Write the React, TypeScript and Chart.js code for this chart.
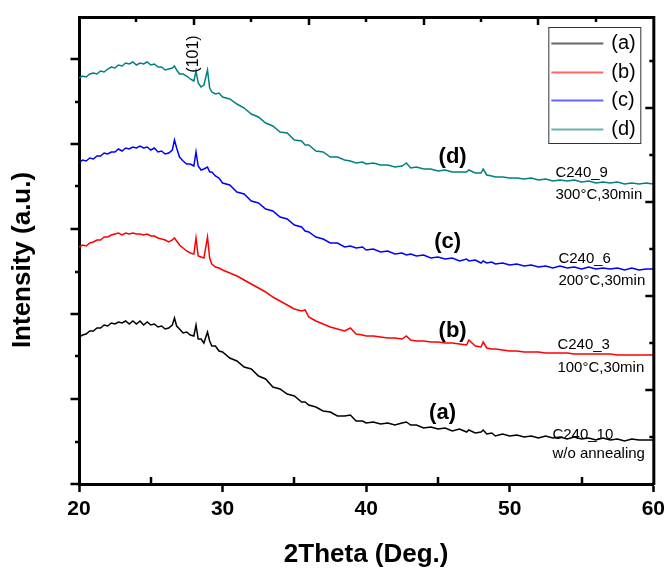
import React, { useEffect, useRef } from "react";
import { Chart, registerables } from "chart.js";

Chart.register(...registerables);

// 2-theta positions (degrees), shared by all four patterns
const THETA = [20, 20.25, 20.5, 20.75, 21, 21.25, 21.5, 21.75, 22, 22.25, 22.5, 22.75, 23, 23.25, 23.5, 23.75, 24, 24.25, 24.5, 24.75, 25, 25.25, 25.5, 25.75, 26, 26.25, 26.5, 26.65, 26.8, 27, 27.25, 27.5, 27.75, 28, 28.15, 28.3, 28.5, 28.7, 28.95, 29.1, 29.25, 29.5, 29.75, 30, 30.5, 31, 31.5, 32, 32.5, 33, 33.5, 34, 34.5, 35, 35.5, 35.75, 36, 36.5, 37, 37.5, 38, 38.5, 38.9, 39.3, 39.75, 40, 40.5, 41, 41.5, 42, 42.5, 42.8, 43.1, 43.5, 44, 44.5, 45, 45.5, 46, 46.5, 47, 47.15, 47.6, 48, 48.15, 48.4, 48.75, 49, 49.5, 50, 50.5, 51, 51.5, 52, 52.5, 53, 53.5, 54, 54.5, 55, 55.5, 56, 56.5, 57, 57.5, 58, 58.5, 59, 59.5, 60];

const LEGEND_LABELS = ["(a)", "(b)", "(c)", "(d)"];

// (a) C240_10 w/o annealing
const INTENSITY_A = [
  147, 149, 150, 153, 153, 156, 156, 159, 158, 161,
  160, 162, 161, 163, 160, 163, 160, 163, 159, 162,
  159, 160, 157, 158, 155, 156, 159, 166, 158, 155,
  151, 152, 149, 148, 159, 145, 145, 141, 152, 143,
  138, 138, 133, 132, 126, 123, 117, 115, 108, 105,
  97, 95, 90, 88, 82, 82, 79, 77, 73, 72,
  68, 68, 69, 63, 63, 61, 62, 60, 61, 59,
  61, 62, 59, 59, 56, 57, 55, 56, 53, 55,
  52, 54, 51, 52, 54, 50, 51, 48, 50, 48,
  49, 47, 48, 46, 48, 46, 47, 45, 47, 45,
  46, 44, 46, 44, 45, 43, 45, 44, 44, 44,
];

// (b) C240_3 100°C,30min
const INTENSITY_B = [
  237, 239, 238, 241, 242, 244, 244, 247, 247, 249,
  250, 251, 249, 251, 250, 251, 250, 250, 249, 250,
  248, 248, 246, 245, 244, 242, 244, 246, 243, 239,
  236, 233, 231, 230, 246, 228, 227, 226, 247, 226,
  220, 217, 216, 214, 211, 208, 204, 200, 196, 192,
  187, 183, 179, 175, 173, 174, 167, 163, 160, 157,
  155, 153, 156, 150, 149, 148, 148, 147, 146, 146,
  145, 148, 144, 143, 143, 142, 142, 141, 141, 140,
  139, 144, 138, 137, 142, 136, 135, 135, 134, 133,
  133, 132, 132, 132, 131, 131, 131, 131, 130, 130,
  130, 130, 130, 130, 129, 129, 129, 129, 129, 129,
];

// (c) C240_6 200°C,30min
const INTENSITY_C = [
  321, 324, 323, 326, 325, 328, 328, 331, 330, 332,
  332, 335, 333, 336, 335, 337, 336, 338, 336, 337,
  334, 336, 332, 333, 330, 331, 334, 344, 336, 327,
  323, 320, 320, 318, 332, 318, 314, 315, 317, 312,
  312, 308, 306, 301, 299, 292, 290, 283, 281, 275,
  273, 267, 265, 259, 257, 253, 252, 247, 245, 241,
  241, 237, 238, 236, 237, 234, 235, 232, 233, 230,
  231, 229, 230, 228, 229, 226, 227, 225, 226, 223,
  225, 223, 224, 221, 223, 221, 222, 220, 221, 219,
  220, 218, 219, 217, 218, 216, 218, 216, 217, 215,
  217, 215, 216, 215, 216, 214, 216, 214, 215, 215,
];

// (d) C240_9 300°C,30min
const INTENSITY_D = [
  406, 408, 407, 410, 411, 410, 413, 412, 415, 417,
  416, 419, 418, 421, 420, 422, 419, 421, 420, 422,
  419, 420, 417, 417, 414, 415, 416, 418, 414, 410,
  410, 408, 405, 403, 413, 401, 397, 399, 414, 396,
  392, 390, 391, 387, 385, 380, 376, 370, 367, 361,
  358, 352, 351, 344, 343, 339, 339, 333, 332, 327,
  327, 324, 323, 321, 322, 320, 321, 319, 319, 317,
  318, 321, 316, 317, 315, 315, 313, 314, 312, 312,
  312, 314, 311, 311, 315, 309, 308, 307, 307, 306,
  306, 305, 306, 304, 305, 303, 304, 303, 304, 302,
  303, 301, 302, 301, 302, 300, 301, 300, 301, 300,
];

const SAMPLE_NAMES = ["C240_10", "C240_3", "C240_6", "C240_9"];
const SAMPLE_CONDITIONS = ["w/o annealing", "100°C,30min", "200°C,30min", "300°C,30min"];
const PEAK_LABEL = "(101)";
const X_TITLE = "2Theta (Deg.)";
const Y_TITLE = "Intensity (a.u.)";

const X_MIN = 20;
const X_MAX = 60;
const X_STEP = 10;
const Y_MIN = 0;
const Y_MAX = 467;

const SERIES_COLORS = ["#000000", "#ff0000", "#0000ff", "#008080"];
const FONT = 'Arial, "Liberation Sans", Helvetica, sans-serif';

// annotation anchors in data coordinates (layout, not data)
const LAYOUT = {
  letters: [
    { x: 45.32, y: 71 },
    { x: 46.02, y: 153 },
    { x: 45.67, y: 242 },
    { x: 46.02, y: 327 },
  ],
  samples: [
    { x: 52.97, y1: 49, y2: 30 },
    { x: 53.32, y1: 139, y2: 116 },
    { x: 53.39, y1: 225, y2: 203 },
    { x: 53.18, y1: 311, y2: 289 },
  ],
  peak: { x: 28.0, y: 430 },
};

const decorPlugin = {
  id: "decor",
  afterDraw(chart: any) {
    const { ctx, chartArea: ca, scales } = chart;
    const xs = scales.x;
    const ys = scales.y;
    ctx.save();
    ctx.strokeStyle = "#000";
    ctx.fillStyle = "#000";
    ctx.lineCap = "butt";

    // top and right frame lines
    ctx.lineWidth = 3;
    ctx.beginPath();
    ctx.moveTo(ca.left - 1, ca.top + 0.5);
    ctx.lineTo(ca.right + 2, ca.top + 0.5);
    ctx.moveTo(ca.right + 0.5, ca.top);
    ctx.lineTo(ca.right + 0.5, ca.bottom + 1);
    ctx.stroke();

    ctx.lineWidth = 2.5;
    ctx.beginPath();
    // left ticks (outward): major every 85, minor halfway
    for (let i = 0; i * 42.5 < Y_MAX - 5; i++) {
      const py = Math.round(ys.getPixelForValue(i * 42.5));
      const len = i % 2 === 0 ? 8.5 : 4;
      ctx.moveTo(ca.left - len, py);
      ctx.lineTo(ca.left, py);
    }
    // bottom minor ticks (inward)
    for (let v = X_MIN + X_STEP / 2; v < X_MAX; v += X_STEP) {
      const px = Math.round(xs.getPixelForValue(v));
      ctx.moveTo(px, ca.bottom);
      ctx.lineTo(px, ca.bottom - 7);
    }
    // top ticks (inward)
    for (let k = 1; X_MIN + 4 * k < X_MAX; k++) {
      const px = Math.round(xs.getPixelForValue(X_MIN + 4 * k));
      const len = k % 2 === 0 ? 8 : 5;
      ctx.moveTo(px, ca.top);
      ctx.lineTo(px, ca.top + len);
    }
    // right ticks (inward)
    for (let k = 1; 47 * k < Y_MAX - 5; k++) {
      const py = Math.round(ys.getPixelForValue(47 * k));
      const len = k % 2 === 0 ? 8 : 4;
      ctx.moveTo(ca.right, py);
      ctx.lineTo(ca.right - len, py);
    }
    ctx.stroke();

    // legend box
    const bx = ca.right - 105;
    const by = ca.top + 10;
    const bw = 92;
    const bh = 116;
    ctx.lineWidth = 1;
    ctx.strokeStyle = "#333";
    ctx.strokeRect(bx + 0.5, by + 0.5, bw, bh);
    ctx.font = `20px ${FONT}`;
    ctx.textAlign = "left";
    ctx.textBaseline = "middle";
    chart.data.datasets.forEach((ds: any, i: number) => {
      const ry = Math.round(by + 16 + i * 28.7) + 0.5;
      ctx.save();
      ctx.globalAlpha = 0.6;
      ctx.strokeStyle = ds.borderColor;
      ctx.lineWidth = 2;
      ctx.beginPath();
      ctx.moveTo(bx + 3, ry);
      ctx.lineTo(bx + 55, ry);
      ctx.stroke();
      ctx.restore();
      ctx.fillStyle = "#000";
      ctx.fillText(ds.label, bx + 63, ry);
    });

    // series letters
    ctx.font = `bold 22px ${FONT}`;
    ctx.textAlign = "center";
    LAYOUT.letters.forEach((p, i) => {
      ctx.fillText(LEGEND_LABELS[i], xs.getPixelForValue(p.x), ys.getPixelForValue(p.y));
    });

    // sample names and conditions
    ctx.font = `15px ${FONT}`;
    ctx.textAlign = "left";
    LAYOUT.samples.forEach((p, i) => {
      const px = xs.getPixelForValue(p.x);
      ctx.fillText(SAMPLE_NAMES[i], px, ys.getPixelForValue(p.y1));
      ctx.fillText(SAMPLE_CONDITIONS[i], px, ys.getPixelForValue(p.y2));
    });

    // (101) peak label, rotated
    ctx.save();
    ctx.translate(xs.getPixelForValue(LAYOUT.peak.x), ys.getPixelForValue(LAYOUT.peak.y));
    ctx.rotate(-Math.PI / 2);
    ctx.font = `16px ${FONT}`;
    ctx.textAlign = "center";
    ctx.fillText(PEAK_LABEL, 0, 0);
    ctx.restore();

    // y-axis title
    ctx.save();
    ctx.translate(23, 260);
    ctx.rotate(-Math.PI / 2);
    ctx.font = `bold 26px ${FONT}`;
    ctx.textAlign = "center";
    ctx.fillText(Y_TITLE, 0, 0);
    ctx.restore();

    ctx.restore();
  },
};

export default function App() {
  const ref = useRef<HTMLCanvasElement>(null);

  useEffect(() => {
    const canvas = ref.current;
    if (!canvas) return;
    const series = [INTENSITY_A, INTENSITY_B, INTENSITY_C, INTENSITY_D];
    const chart = new Chart(canvas, {
      type: "line",
      data: {
        datasets: series.map((vals, i) => ({
          label: LEGEND_LABELS[i],
          data: THETA.map((t, j) => ({ x: t, y: vals[j] })),
          borderColor: SERIES_COLORS[i],
          backgroundColor: SERIES_COLORS[i],
          borderWidth: 1.5,
          pointRadius: 0,
          tension: 0,
          fill: false,
        })),
      },
      options: {
        animation: false,
        responsive: false,
        devicePixelRatio: 1,
        events: [],
        layout: { padding: { top: 17, right: 16, left: 0, bottom: 0 } },
        plugins: {
          legend: { display: false },
          tooltip: { enabled: false },
          title: { display: false },
        },
        scales: {
          x: {
            type: "linear",
            position: "bottom",
            min: X_MIN,
            max: X_MAX,
            ticks: {
              stepSize: X_STEP,
              color: "#000",
              padding: 5,
              maxRotation: 0,
              font: { family: FONT, size: 21, weight: "bold" },
            },
            grid: {
              display: true,
              drawOnChartArea: false,
              drawTicks: true,
              tickLength: 8,
              tickWidth: 2.5,
              tickColor: "#000",
              color: "#000",
            },
            border: { display: true, color: "#000", width: 3 },
            title: {
              display: true,
              text: X_TITLE,
              color: "#000",
              font: { family: FONT, size: 26, weight: "bold", lineHeight: 1 },
              padding: { top: 0, bottom: 0 },
            },
            afterFit: (s: any) => {
              s.height = 84;
            },
          },
          y: {
            type: "linear",
            position: "left",
            min: Y_MIN,
            max: Y_MAX,
            ticks: { display: false },
            grid: { display: false },
            border: { display: true, color: "#000", width: 3 },
            title: { display: false },
            afterFit: (s: any) => {
              s.width = 79;
            },
          },
        },
      } as any,
      plugins: [decorPlugin],
    });
    return () => chart.destroy();
  }, []);

  return (
    <div style={{ position: "absolute", left: 0, top: 0, width: 670, height: 568, background: "#fff" }}>
      <canvas ref={ref} width={670} height={568} style={{ display: "block", width: 670, height: 568 }} />
    </div>
  );
}
